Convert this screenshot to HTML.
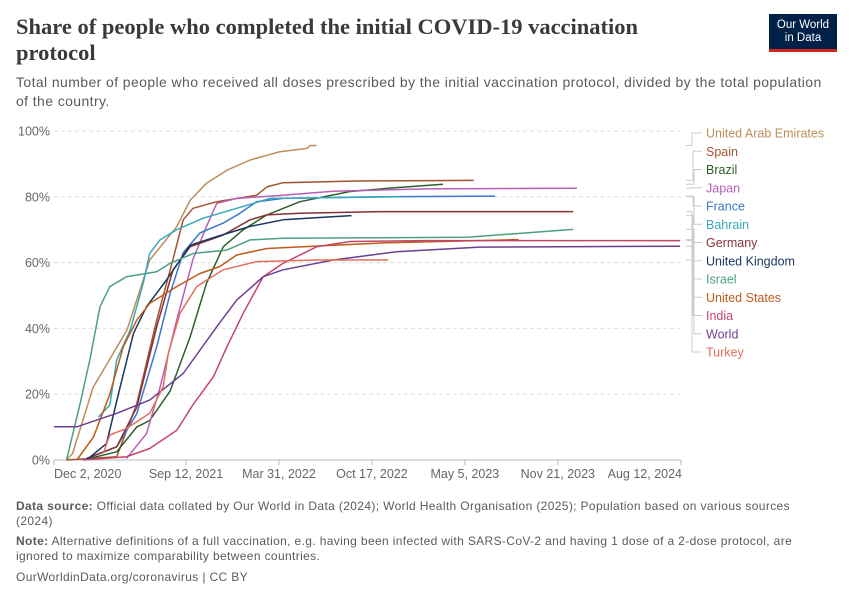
<!DOCTYPE html>
<html><head><meta charset="utf-8">
<style>
body{margin:0;background:#fff;width:850px;height:600px;overflow:hidden;font-family:"Liberation Sans",sans-serif;position:relative}
.t{position:absolute;white-space:nowrap}
#title{left:16px;top:14px;font-family:"Liberation Serif",serif;font-weight:bold;font-size:22.5px;color:#3a3a3a;line-height:26px}
#sub{left:16px;top:73px;font-size:14px;color:#5b5b5b;line-height:19px;letter-spacing:0.4px}
.foot{left:16px;font-size:12px;color:#5b5b5b;line-height:15px;letter-spacing:0.36px}
</style></head><body>
<div class="t" id="title">Share of people who completed the initial COVID-19 vaccination<br>protocol</div>
<div class="t" id="sub">Total number of people who received all doses prescribed by the initial vaccination protocol, divided by the total population<br>of the country.</div>
<div style="position:absolute;left:769px;top:14px;width:68px;height:38px;background:#002147;border-bottom:3px solid #ce261e;box-sizing:border-box;color:#fff;font-size:11.5px;text-align:center;line-height:13px;padding-top:5px">Our World<br>in Data</div>
<svg id="chart" width="850" height="600" style="position:absolute;left:0;top:0"></svg>
<div class="t foot" style="top:499px"><b>Data source:</b> Official data collated by Our World in Data (2024); World Health Organisation (2025); Population based on various sources<br>(2024)</div>
<div class="t foot" style="top:534px"><b>Note:</b> Alternative definitions of a full vaccination, e.g. having been infected with SARS-CoV-2 and having 1 dose of a 2-dose protocol, are<br>ignored to maximize comparability between countries.</div>
<div class="t foot" style="top:570px">OurWorldinData.org/coronavirus | CC BY</div>
<script>
// days since Dec 2, 2020 ; values in %
const yTicks=[0,20,40,60,80,100];
const xTickDays=[0,284,484,684,884,1084,1349];
const xTickLabels=["Dec 2, 2020","Sep 12, 2021","Mar 31, 2022","Oct 17, 2022","May 5, 2023","Nov 21, 2023","Aug 12, 2024"];
const uae=[[27,0],[40,2],[84,22],[157,39.5],[206,60.8],[264,70.9],[293,79],[328,84.1],[372,88.1],[422,91.2],[486,93.7],[544,94.7],[551,95.6],[565,95.6]];
const spain=[[27,0],[135,1],[178,17],[221,42.5],[256,61],[278,73],[299,76.5],[350,78.5],[436,80.5],[458,83],[493,84.3],[650,84.8],[903,85]];
const brazil=[[63,0],[135,2.5],[178,10],[206,12],[250,21],[293,37.5],[328,53.7],[364,64.8],[407,70],[458,74.5],[529,78.5],[637,81.6],[730,82.7],[837,83.8]];
const japan=[[156,0.5],[199,8],[228,22],[264,42.5],[299,61],[328,71],[350,78],[393,79.5],[493,80.5],[600,81.7],[800,82.4],[1125,82.6]];
const france=[[63,0],[135,4],[178,14],[221,34.4],[250,50.7],[278,63],[314,69],[364,72],[400,75],[436,78.5],[493,79.5],[700,80],[949,80.2]];
const bahrain=[[95,13],[120,16.7],[135,30.4],[164,39.5],[192,53.7],[206,62.8],[228,66.9],[264,70],[321,73.5],[393,76.5],[465,79.5],[744,80]];
const germany=[[70,0.5],[135,4],[178,16],[221,40.5],[256,57.8],[293,64.8],[364,68.4],[422,73],[458,74.5],[529,75],[700,75.5],[1117,75.5]];
const uk=[[70,0],[113,5],[142,22],[171,38.5],[199,46.6],[242,54.7],[293,65.3],[350,67.9],[422,71],[493,73],[580,73.8],[640,74.3]];
const israel=[[27,0],[56,17],[77,30.4],[99,46.6],[120,52.7],[156,55.7],[221,57.2],[250,59.8],[300,62.8],[372,63.8],[422,66.9],[493,67.4],[889,67.7],[1117,70.1]];
const us=[[49,0],[85,7],[120,20],[149,34.4],[178,42.5],[206,47.6],[264,52.7],[314,56.7],[357,58.8],[393,62.3],[458,64.3],[601,65.3],[708,66],[1000,67]];
const india=[[63,0],[156,1],[206,3.5],[264,9],[300,17],[343,25.3],[372,34.4],[407,44.6],[450,55.7],[493,59.8],[565,64.8],[637,66.4],[800,66.7],[1347,66.7]];
const world=[[0,10.1],[49,10.1],[135,14.2],[206,18.2],[278,26.3],[350,40.5],[393,48.6],[450,55.7],[493,57.8],[601,60.8],[737,63.3],[916,64.7],[1347,65]];
const turkey=[[106,2],[120,7.6],[156,9.6],[206,14.2],[235,22.3],[246,32.4],[271,44.6],[307,52.7],[364,57.8],[436,60.3],[565,60.8],[719,60.8]];
const seriesNames=["United Arab Emirates","Spain","Brazil","Japan","France","Bahrain","Germany","United Kingdom","Israel","United States","India","World","Turkey"];
const seriesData=[uae,spain,brazil,japan,france,bahrain,germany,uk,israel,us,india,world,turkey];
const seriesColors=["#bc8e5a","#a2552c","#2e5e2a","#b95eb6","#3a77cf","#38a9bb","#883039","#18375f","#4c9f84","#c05b1a","#c3466a","#6d3e91","#e56e5a"];
const NS="http://www.w3.org/2000/svg";
const svg=document.getElementById('chart');
const X0=54,X1=681,Y0=460,Y1=131,DMAX=1349;
function xs(d){return X0+(X1-X0)*d/DMAX;}
function ys(v){return Y0-(Y0-Y1)*v/100;}
function mk(tag,attrs){const e=document.createElementNS(NS,tag);for(const k in attrs)e.setAttribute(k,attrs[k]);svg.appendChild(e);return e;}
yTicks.forEach(v=>{
  if(v>0){const g=mk('line',{x1:X0,x2:X1,y1:ys(v),y2:ys(v),stroke:'#ddd','stroke-dasharray':'4,3'});
  
  }
  const t=mk('text',{x:50,y:ys(v)+4.5,'text-anchor':'end','font-size':12.5,fill:'#666','font-family':'Liberation Sans, sans-serif'});
  t.textContent=v+'%';
  
  
});
const ax=mk('line',{x1:X0,x2:X1,y1:Y0,y2:Y0,stroke:'#bbb'});


xTickDays.forEach((d,i)=>{
  const tk=mk('line',{x1:xs(d),x2:xs(d),y1:Y0,y2:Y0+5,stroke:'#bbb'});
  
  
  let anchor='middle',x=xs(d);
  if(i===0){anchor='start';x=xs(d);} if(i===xTickDays.length-1){anchor='end';x=xs(d)+1;}
  const t=mk('text',{x:x,y:Y0+18,'text-anchor':anchor,'font-size':12.5,fill:'#666','font-family':'Liberation Sans, sans-serif'});
  t.textContent=xTickLabels[i];
  
  
});
seriesData.forEach((s,i)=>{
  const p=mk('polyline',{points:s.map(q=>xs(q[0]).toFixed(1)+','+ys(q[1]).toFixed(1)).join(' '),fill:'none',stroke:seriesColors[i],'stroke-width':1.5,'stroke-linejoin':'round'});
  
  
});
// legend
const LY0=133,LDY=18.25;
seriesNames.forEach((n,i)=>{
  const ly=LY0+i*LDY, s=seriesData[i], last=s[s.length-1];
  const ey=ys(last[1]);
  const c=mk('polyline',{points:`${686},${ey.toFixed(1)} ${692+ (i%3)},${ey.toFixed(1)} ${692+(i%3)},${ly} ${702},${ly}`,fill:'none',stroke:'#ccc','stroke-width':1});
  
  
  const t=mk('text',{x:706,y:ly+4.5,'font-size':12.5,fill:seriesColors[i],'font-family':'Liberation Sans, sans-serif'});
  t.textContent=n;
  
  
});
</script>
</body></html>
